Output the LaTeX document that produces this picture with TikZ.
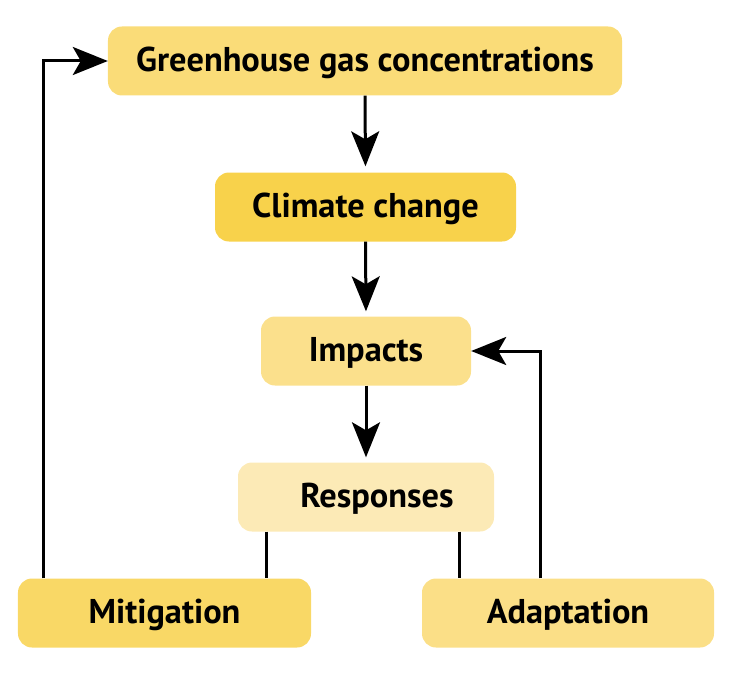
\documentclass[tikz,border=0pt]{standalone}
\usepackage{fontspec}
\setmainfont{PT Sans}
\usetikzlibrary{arrows.meta,calc}
\definecolor{cgh}{HTML}{FADC78}
\definecolor{ccl}{HTML}{F8D24B}
\definecolor{cim}{HTML}{FBE08C}
\definecolor{cre}{HTML}{FCEAB6}
\definecolor{cmi}{HTML}{F9D866}
\definecolor{cad}{HTML}{FBDF87}
\tikzset{
  box/.style={rounded corners=14bp, inner sep=0pt, minimum height=69bp,
    text height=21bp, text depth=0bp,
    font=\fontsize{34.5}{40}\selectfont\bfseries, text=black},
  conn/.style={line width=3bp, black},
  arr/.style={conn, -{Stealth[length=35bp,width=28bp,inset=8bp]}}
}
\begin{document}
\begin{tikzpicture}[x=1bp,y=-1bp]
\useasboundingbox (0,0) rectangle (733,675);
\node[box, fill=cgh, minimum width=514bp] (gh) at (365,61) {Greenhouse gas concentrations};
\node[box, fill=ccl, minimum width=301bp] (cc) at (365.5,207) {Climate change};
\node[box, fill=cim, minimum width=210bp] (im) at (366,351) {Impacts};
\node[box, fill=cre, minimum width=256bp] (re) at (366,497) {\hspace*{22bp}Responses};
\node[box, fill=cmi, minimum width=293bp] (mi) at (164.5,613) {Mitigation};
\node[box, fill=cad, minimum width=292bp] (ad) at (568,613) {Adaptation};
\draw[arr, shorten >=6bp] (gh.south) -- (cc.north);
\draw[arr, shorten >=5bp] (cc.south) -- (im.north);
\draw[arr, shorten >=5bp] (im.south) -- (re.north);
\coordinate (mtop) at ([xshift=26bp]mi.north west);
\coordinate (atop) at ([xshift=119bp]ad.north west);
\draw[arr] (mtop) |- (gh.west);
\draw[arr] (atop) |- (im.east);
\coordinate (rl) at ([xshift=29bp]re.south west);
\coordinate (rr) at ([xshift=-35bp]re.south east);
\draw[conn] (rl) -- (rl |- mi.north);
\draw[conn] (rr) -- (rr |- ad.north);
\end{tikzpicture}
\end{document}
